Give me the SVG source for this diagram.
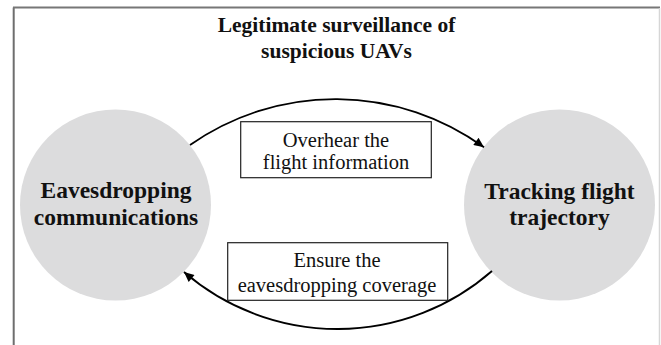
<svg xmlns="http://www.w3.org/2000/svg" width="661" height="345" viewBox="0 0 661 345">
<defs>
<style>
.node{fill:#dcdcdd;stroke:none}
.ntext{font-family:"Liberation Serif","Times New Roman",serif;font-weight:bold;font-size:23.5px;fill:#111;text-anchor:middle}
.title{font-family:"Liberation Serif","Times New Roman",serif;font-weight:bold;font-size:21.5px;fill:#111;text-anchor:middle}
.lbox{fill:#fff;stroke:#222;stroke-width:1.2}
.ltext{font-family:"Liberation Serif","Times New Roman",serif;font-size:20.5px;fill:#111;text-anchor:middle}
.conn{fill:none;stroke:#000;stroke-width:1.8}
</style>
<marker id="arr" viewBox="0 0 10 9" refX="10" refY="4.5" markerWidth="11" markerHeight="9" markerUnits="userSpaceOnUse" orient="auto">
<path d="M0,0 L10,4.5 L0,9 Z" fill="#000"/>
</marker>
</defs>
<rect width="661" height="345" fill="#fff"/>
<g id="frame">
<line x1="13.7" y1="7.5" x2="13.7" y2="345" stroke="#6e6e6e" stroke-width="2"/>
<line x1="13" y1="7.5" x2="660" y2="7.5" stroke="#777" stroke-width="2"/>
<line x1="659.5" y1="8" x2="659.5" y2="345" stroke="#d6d6d6" stroke-width="1.5"/>
</g>
<g id="title">
<text class="title" x="336.5" y="32">Legitimate surveillance of</text>
<text class="title" x="336.5" y="58">suspicious UAVs</text>
</g>
<g id="node-eavesdropping">
<circle class="node" cx="115.5" cy="205" r="95.5"/>
<text class="ntext" x="116" y="198">Eavesdropping</text>
<text class="ntext" x="116" y="225">communications</text>
</g>
<g id="node-tracking">
<circle class="node" cx="559.5" cy="205" r="95.5"/>
<text class="ntext" x="559.5" y="198.5">Tracking flight</text>
<text class="ntext" x="559.5" y="224.5">trajectory</text>
</g>
<g id="connectors">
<path class="conn" d="M190,145 A253,253 0 0 1 484,147.3" marker-end="url(#arr)"/>
<path class="conn" d="M492,271 A235,235 0 0 1 184,272" marker-end="url(#arr)"/>
</g>
<g id="label-overhear">
<rect class="lbox" x="240.7" y="121.7" width="190.6" height="56"/>
<text class="ltext" x="336" y="146.7">Overhear the</text>
<text class="ltext" x="336" y="168.5">flight information</text>
</g>
<g id="label-ensure">
<rect class="lbox" x="227.7" y="242.7" width="220" height="57.6"/>
<text class="ltext" x="337" y="267.3">Ensure the</text>
<text class="ltext" x="337" y="292.3">eavesdropping coverage</text>
</g>
</svg>
